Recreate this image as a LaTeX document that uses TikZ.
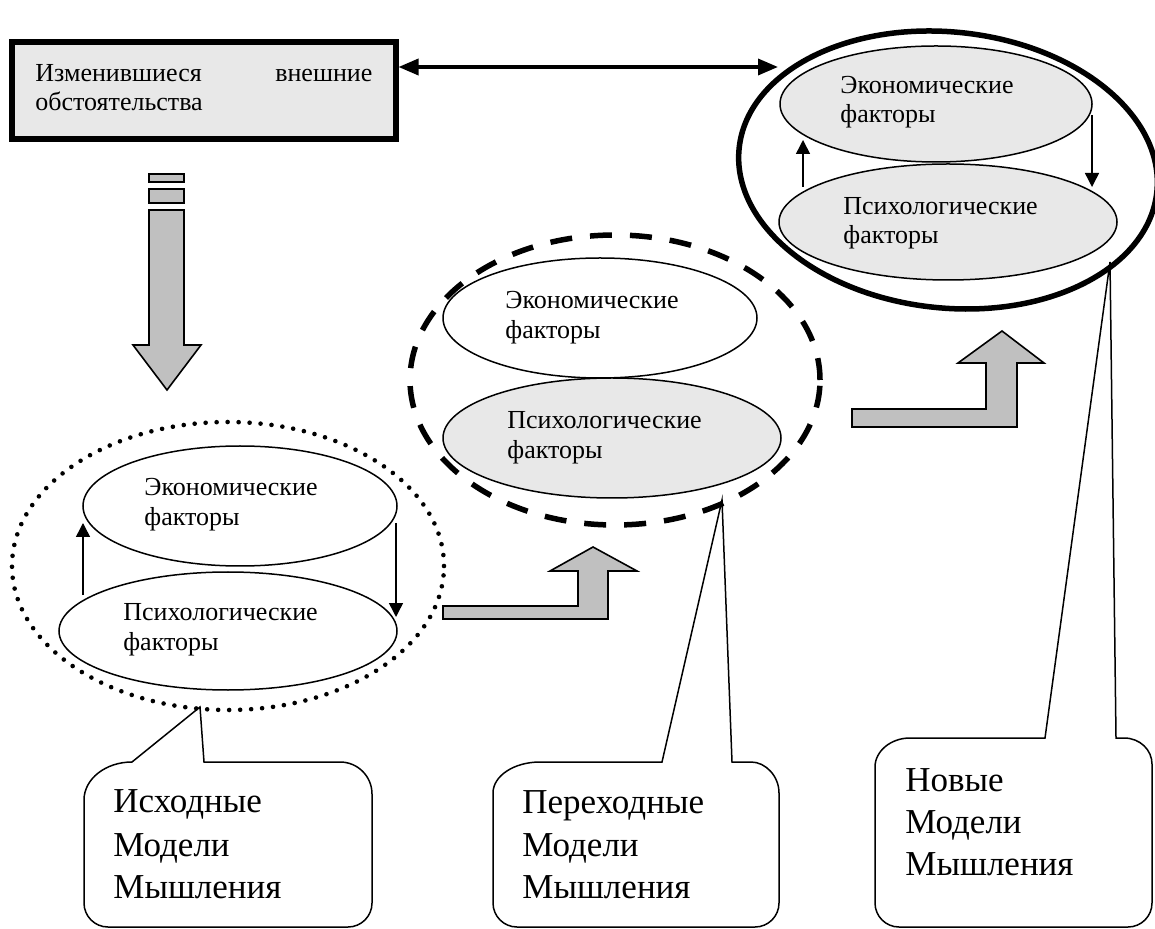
\documentclass[tikz,border=0pt]{standalone}
\usepackage{fontspec}
\setmainfont{Liberation Serif}
\usetikzlibrary{shapes.geometric,arrows.meta}
\definecolor{boxfill}{RGB}{232,232,232}
\definecolor{arrfill}{RGB}{192,192,192}
\begin{document}
\begin{tikzpicture}[x=0.5pt,y=-0.5pt,
  sm/.style={font=\fontsize{13}{15}\selectfont, inner sep=0pt, anchor=base west},
  bigtxt/.style={font=\fontsize{17.5}{21}\selectfont, inner sep=0pt, anchor=base west},
  ell/.style={ellipse, draw, line width=0.75pt, inner sep=0pt},
  dotline/.style={ellipse, draw, inner sep=0pt, line width=2.3pt, dash pattern=on 0pt off 5.5pt, line cap=round},
  dashline/.style={ellipse, draw, inner sep=0pt, line width=2.75pt, dash pattern=on 11pt off 9pt},
  solidline/.style={ellipse, draw, inner sep=0pt, line width=2.75pt},
  blockarrow/.style={draw, line width=0.8pt, fill=arrfill, line join=miter},
  smallarr/.style={line width=0.75pt, -{Triangle[length=7pt,width=7pt]}},
  callout/.style={draw, line width=0.75pt, line join=miter}]
\useasboundingbox (0,0) rectangle (1155,929);

% top-left box
\node[draw, line width=3pt, fill=boxfill, minimum width=192pt, minimum height=48.5pt, inner sep=0pt] (box) at (203.5,91) {};
\node[sm] (t1) at (35,82) {\hbox to 168.5pt{Изменившиеся\hfill внешние}};
\node[sm] (t2) at (35,111) {обстоятельства};

% outer ellipses
\node[dotline, minimum width=216pt, minimum height=144pt] (lO) at (228,566) {};
\node[dashline, minimum width=205pt, minimum height=145pt] (mO) at (615,380) {};
\node[solidline, minimum width=210pt, minimum height=138pt, rotate=-6] (rO) at (948,170) {};

% double arrow
\coordinate (dr) at (778,67);
\draw[line width=1.75pt, {Triangle[length=10pt,width=8pt]}-{Triangle[length=10pt,width=8pt]}] (box.east |- dr) -- (dr);

% left block arrow
\draw[blockarrow] (149,174) rectangle (184,182);
\draw[blockarrow] (149,189) rectangle (184,203);
\draw[blockarrow] (149,210) -- (184,210) -- (184,345) -- (201,345) -- (167,390) -- (133,345) -- (149,345) -- cycle;

% bent arrows
\draw[blockarrow] (443,606) -- (578,606) -- (578,571) -- (550,571) -- (593,547) -- (637,571) -- (608,571) -- (608,619) -- (443,619) -- cycle;
\draw[blockarrow] (852,409) -- (986,409) -- (986,363) -- (958,363) -- (1002,331) -- (1044,363) -- (1017,363) -- (1017,427) -- (852,427) -- cycle;

% left group
\node[ell, fill=white, minimum width=157pt, minimum height=60pt] (lE) at (240,506) {};
\node[ell, fill=white, minimum width=169pt, minimum height=59pt] (lP) at (228,631) {};
\node[sm] (lE1) at (144,496) {Экономические};
\node[sm] (lE2) at (144,526) {факторы};
\node[sm] (lP1) at (123,620) {Психологические};
\node[sm] (lP2) at (123,650) {факторы};
\coordinate (la1) at (83,595); \coordinate (la2) at (83,523);
\coordinate (lb1) at (396,523); \coordinate (lb2) at (396,617);
\draw[smallarr] (la1) -- (la2);
\draw[smallarr] (lb1) -- (lb2);

% middle group
\node[ell, fill=white, minimum width=157pt, minimum height=60pt] (mE) at (600,318) {};
\node[ell, fill=boxfill, minimum width=169pt, minimum height=60pt] (mP) at (612,438) {};
\node[sm] (mE1) at (505,309) {Экономические};
\node[sm] (mE2) at (505,339) {факторы};
\node[sm] (mP1) at (507,429) {Психологические};
\node[sm] (mP2) at (507,459) {факторы};

% right group
\node[ell, fill=boxfill, minimum width=156pt, minimum height=58pt] (rE) at (936,104) {};
\node[ell, fill=boxfill, minimum width=169pt, minimum height=58pt] (rP) at (948,222) {};
\node[sm] (rE1) at (840,94) {Экономические};
\node[sm] (rE2) at (840,123) {факторы};
\node[sm] (rP1) at (843,215) {Психологические};
\node[sm] (rP2) at (843,244) {факторы};
\coordinate (ra1) at (803,187); \coordinate (ra2) at (803,140);
\coordinate (rb1) at (1092,115); \coordinate (rb2) at (1092,187);
\draw[smallarr] (ra1) -- (ra2);
\draw[smallarr] (rb1) -- (rb2);

% callouts
\coordinate (lt) at (200,707);
\draw[callout] (132,762) -- (lt) -- (204,762) -- (340,762)
  .. controls (357.7,762) and (372,776.3) .. (372,794) -- (372,903)
  .. controls (372,916.2) and (361.3,927) .. (348,927) -- (108,927)
  .. controls (94.7,927) and (84,916.2) .. (84,903) -- (84,800)
  .. controls (84,779) and (105.5,762) .. (132,762) -- cycle;
\node[bigtxt] (c1a) at (113,812) {Исходные};
\node[bigtxt] (c1b) at (113,856) {Модели};
\node[bigtxt] (c1c) at (113,898) {Мышления};

\coordinate (mt) at (722,500);
\draw[callout] (662,762) -- (mt) -- (732,762) -- (751,762)
  .. controls (765.4,762) and (779,775.9) .. (779,793) -- (779,903)
  .. controls (779,916.2) and (768.3,927) .. (755,927) -- (517,927)
  .. controls (503.7,927) and (493,916.2) .. (493,903) -- (493,793)
  .. controls (493,775.9) and (514,762) .. (540,762) -- cycle;
\node[bigtxt] (c2a) at (522,813) {Переходные};
\node[bigtxt] (c2b) at (522,856) {Модели};
\node[bigtxt] (c2c) at (522,898) {Мышления};

\coordinate (rt) at (1110,262);
\draw[callout] (1045,738) -- (rt) -- (1116,738) -- (1124,738)
  .. controls (1140,738) and (1152,750) .. (1152,764) -- (1152,903)
  .. controls (1152,916.2) and (1141.3,927) .. (1128,927) -- (899,927)
  .. controls (885.7,927) and (875,916.2) .. (875,903) -- (875,767)
  .. controls (875,751) and (891,738) .. (910,738) -- cycle;
\node[bigtxt] (c3a) at (905,791) {Новые};
\node[bigtxt] (c3b) at (905,833) {Модели};
\node[bigtxt] (c3c) at (905,875) {Мышления};
\end{tikzpicture}
\end{document}
